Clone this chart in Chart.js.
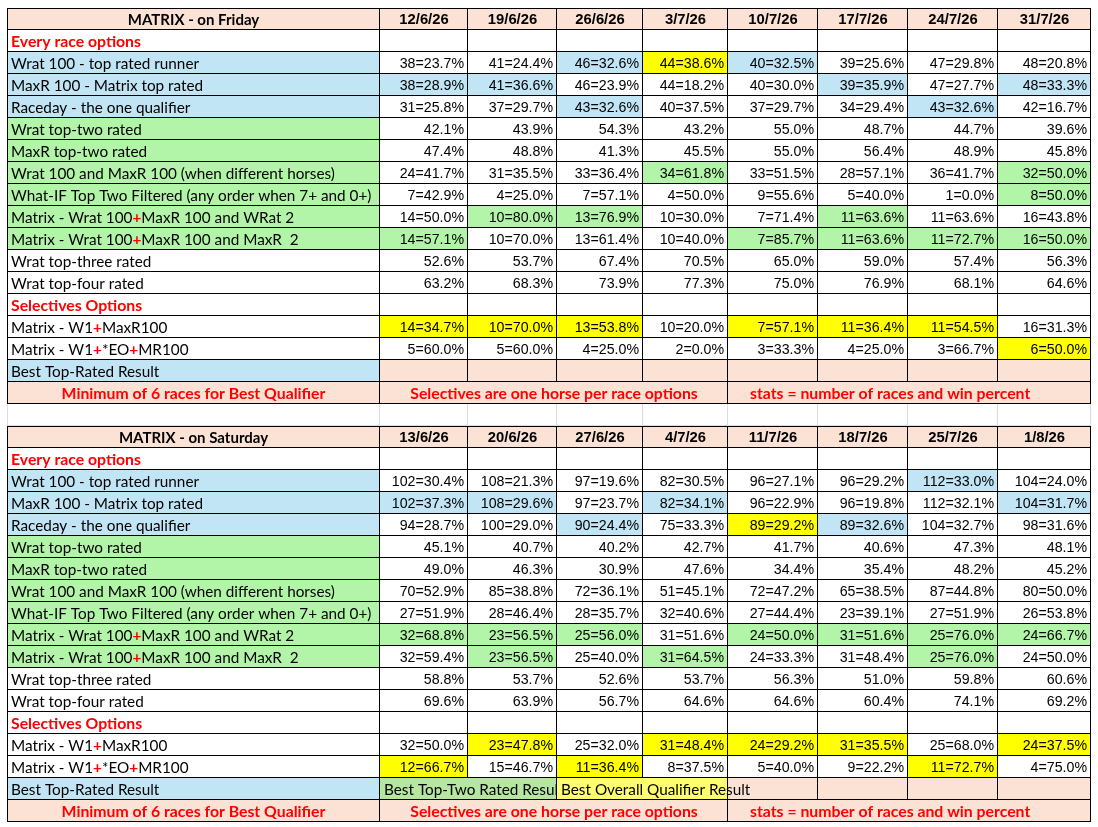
<!DOCTYPE html>
<html>
<head>
<meta charset="utf-8">
<script src="https://cdn.jsdelivr.net/npm/chart.js@4.4.1/dist/chart.umd.min.js"></script>
<style>
  html, body { margin: 0; padding: 0; background: #fff; }
  #wrap { width: 1098px; height: 827px; position: relative; }
</style>
</head>
<body>
<div id="wrap"><canvas id="sheet"></canvas></div>
<script>
// ---- data ----
const sectionLabels = ['Every race options', 'Selectives Options'];
const rowLabels = [
    'Wrat 100 - top rated runner',
    'MaxR 100 - Matrix top rated',
    'Raceday - the one qualifier',
    'Wrat top-two rated',
    'MaxR top-two rated',
    'Wrat 100 and MaxR 100 (when different horses)',
    'What-IF Top Two Filtered (any order when 7+ and 0+)',
    'Matrix - Wrat 100+MaxR 100 and WRat 2',
    'Matrix - Wrat 100+MaxR 100 and MaxR  2',
    'Wrat top-three rated',
    'Wrat top-four rated'
];
const selectiveLabels = ['Matrix - W1+MaxR100', 'Matrix - W1+*EO+MR100'];
const bestLabel = 'Best Top-Rated Result';
const footNotes = ['Minimum of 6 races for Best Qualifier', 'Selectives are one horse per race options', 'stats = number of races and win percent'];
const satBestNotes = ['Best Top-Two Rated Result', 'Best Overall Qualifier Result'];

const friDates = ['12/6/26', '19/6/26', '26/6/26', '3/7/26', '10/7/26', '17/7/26', '24/7/26', '31/7/26'];
const friWrat100   = ['38=23.7%', '41=24.4%', '46=32.6%', '44=38.6%', '40=32.5%', '39=25.6%', '47=29.8%', '48=20.8%'];
const friMaxR100   = ['38=28.9%', '41=36.6%', '46=23.9%', '44=18.2%', '40=30.0%', '39=35.9%', '47=27.7%', '48=33.3%'];
const friRaceday   = ['31=25.8%', '37=29.7%', '43=32.6%', '40=37.5%', '37=29.7%', '34=29.4%', '43=32.6%', '42=16.7%'];
const friWratTop2  = ['42.1%', '43.9%', '54.3%', '43.2%', '55.0%', '48.7%', '44.7%', '39.6%'];
const friMaxRTop2  = ['47.4%', '48.8%', '41.3%', '45.5%', '55.0%', '56.4%', '48.9%', '45.8%'];
const friBothDiff  = ['24=41.7%', '31=35.5%', '33=36.4%', '34=61.8%', '33=51.5%', '28=57.1%', '36=41.7%', '32=50.0%'];
const friWhatIf    = ['7=42.9%', '4=25.0%', '7=57.1%', '4=50.0%', '9=55.6%', '5=40.0%', '1=0.0%', '8=50.0%'];
const friMatrixW2  = ['14=50.0%', '10=80.0%', '13=76.9%', '10=30.0%', '7=71.4%', '11=63.6%', '11=63.6%', '16=43.8%'];
const friMatrixM2  = ['14=57.1%', '10=70.0%', '13=61.4%', '10=40.0%', '7=85.7%', '11=63.6%', '11=72.7%', '16=50.0%'];
const friWratTop3  = ['52.6%', '53.7%', '67.4%', '70.5%', '65.0%', '59.0%', '57.4%', '56.3%'];
const friWratTop4  = ['63.2%', '68.3%', '73.9%', '77.3%', '75.0%', '76.9%', '68.1%', '64.6%'];
const friSelW1MR   = ['14=34.7%', '10=70.0%', '13=53.8%', '10=20.0%', '7=57.1%', '11=36.4%', '11=54.5%', '16=31.3%'];
const friSelW1EO   = ['5=60.0%', '5=60.0%', '4=25.0%', '2=0.0%', '3=33.3%', '4=25.0%', '3=66.7%', '6=50.0%'];

const satDates = ['13/6/26', '20/6/26', '27/6/26', '4/7/26', '11/7/26', '18/7/26', '25/7/26', '1/8/26'];
const satWrat100   = ['102=30.4%', '108=21.3%', '97=19.6%', '82=30.5%', '96=27.1%', '96=29.2%', '112=33.0%', '104=24.0%'];
const satMaxR100   = ['102=37.3%', '108=29.6%', '97=23.7%', '82=34.1%', '96=22.9%', '96=19.8%', '112=32.1%', '104=31.7%'];
const satRaceday   = ['94=28.7%', '100=29.0%', '90=24.4%', '75=33.3%', '89=29.2%', '89=32.6%', '104=32.7%', '98=31.6%'];
const satWratTop2  = ['45.1%', '40.7%', '40.2%', '42.7%', '41.7%', '40.6%', '47.3%', '48.1%'];
const satMaxRTop2  = ['49.0%', '46.3%', '30.9%', '47.6%', '34.4%', '35.4%', '48.2%', '45.2%'];
const satBothDiff  = ['70=52.9%', '85=38.8%', '72=36.1%', '51=45.1%', '72=47.2%', '65=38.5%', '87=44.8%', '80=50.0%'];
const satWhatIf    = ['27=51.9%', '28=46.4%', '28=35.7%', '32=40.6%', '27=44.4%', '23=39.1%', '27=51.9%', '26=53.8%'];
const satMatrixW2  = ['32=68.8%', '23=56.5%', '25=56.0%', '31=51.6%', '24=50.0%', '31=51.6%', '25=76.0%', '24=66.7%'];
const satMatrixM2  = ['32=59.4%', '23=56.5%', '25=40.0%', '31=64.5%', '24=33.3%', '31=48.4%', '25=76.0%', '24=50.0%'];
const satWratTop3  = ['58.8%', '53.7%', '52.6%', '53.7%', '56.3%', '51.0%', '59.8%', '60.6%'];
const satWratTop4  = ['69.6%', '63.9%', '56.7%', '64.6%', '64.6%', '60.4%', '74.1%', '69.2%'];
const satSelW1MR   = ['32=50.0%', '23=47.8%', '25=32.0%', '31=48.4%', '24=29.2%', '31=35.5%', '25=68.0%', '24=37.5%'];
const satSelW1EO   = ['12=66.7%', '15=46.7%', '11=36.4%', '8=37.5%', '5=40.0%', '9=22.2%', '11=72.7%', '4=75.0%'];

// ---- styling (cell highlight codes, layout) ----
const PAL = { w: '#ffffff', b: '#c1e5f5', g: '#b3f5a8', y: '#ffff00', p: '#fbe2d5', ly: '#ffff70', mg: '#b5e6a2' };
const labelFills = 'bbbggggggww';
const friMarks = ['wwbybwww', 'bbwwwbwb', 'wwbwwwbw', 'wwwwwwww', 'wwwwwwww', 'wwwgwwwg',
                  'wwwwwwwg', 'wggwwgww', 'gwwwgggg', 'wwwwwwww', 'wwwwwwww'];
const friSelMarks = ['yyywyyyw', 'wwwwwwwy'];
const satMarks = ['wwwwwwbw', 'bbwbwwwb', 'wwbwybww', 'wwwwwwww', 'wwwwwwww', 'wwwwwwww',
                  'wwwwwwww', 'gggwgggg', 'wgwgwwgw', 'wwwwwwww', 'wwwwwwww'];
const satSelMarks = ['wywyyywy', 'ywywwwyw'];

const colEdges = [7, 380, 468, 557, 643, 728, 818, 908, 998, 1091];
const ROWS = 37;
const RED = '#ff0000';
const F_LABEL = '15.3px Lato';
const F_VALUE = '14.2px "Liberation Sans"';
const F_DATE = 'bold 14.8px "Liberation Sans"';
const F_TITLE = 'bold 15px Lato';
const F_RED = 'bold 15.8px Lato';

const cells = [];
function cell(row, c0, c1, fill, text, opt) {
    const o = opt || {};
    cells.push({
        row, x0: colEdges[c0], x1: colEdges[c1], fill, text: text || '',
        align: o.align || 'left', font: o.font || F_LABEL, color: o.color || '#000',
        line: o.line || '#000', top: o.top || 0, clip: !!o.clip, pad: o.pad
    });
}

function buildTable(start, title, dates, data, marks, sel, selMarks, bestRow) {
    cell(start, 0, 1, PAL.p, title, { align: 'center', font: F_TITLE, top: 1 });
    dates.forEach((d, i) => cell(start, i + 1, i + 2, PAL.p, d, { align: 'center', font: F_DATE, top: 1 }));

    cell(start + 1, 0, 1, PAL.w, sectionLabels[0], { font: F_RED, color: RED });
    dates.forEach((d, i) => cell(start + 1, i + 1, i + 2, PAL.w, ''));

    data.forEach((vals, r) => {
        cell(start + 2 + r, 0, 1, PAL[labelFills[r]], rowLabels[r]);
        vals.forEach((v, i) => cell(start + 2 + r, i + 1, i + 2, PAL[marks[r][i]], v, { align: 'right', font: F_VALUE }));
    });

    cell(start + 13, 0, 1, PAL.w, sectionLabels[1], { font: F_RED, color: RED });
    dates.forEach((d, i) => cell(start + 13, i + 1, i + 2, PAL.w, ''));

    sel.forEach((vals, r) => {
        cell(start + 14 + r, 0, 1, PAL.w, selectiveLabels[r]);
        vals.forEach((v, i) => cell(start + 14 + r, i + 1, i + 2, PAL[selMarks[r][i]], v, { align: 'right', font: F_VALUE }));
    });

    cell(start + 16, 0, 1, PAL.b, bestLabel);
    bestRow(start + 16);

    cell(start + 17, 0, 1, PAL.p, footNotes[0], { align: 'center', font: F_RED, color: RED });
    cell(start + 17, 1, 5, PAL.p, footNotes[1], { align: 'center', font: F_RED, color: RED });
    cell(start + 17, 5, 9, PAL.p, footNotes[2], { align: 'left', pad: 22, font: F_RED, color: RED });
}

buildTable(0, 'MATRIX - on Friday', friDates,
    [friWrat100, friMaxR100, friRaceday, friWratTop2, friMaxRTop2, friBothDiff, friWhatIf, friMatrixW2, friMatrixM2, friWratTop3, friWratTop4],
    friMarks, [friSelW1MR, friSelW1EO], friSelMarks,
    row => friDates.forEach((d, i) => cell(row, i + 1, i + 2, PAL.p, '')));

// blank spreadsheet row between the two tables
for (let i = 0; i < 9; i++) cell(18, i, i + 1, PAL.w, '', { line: '#dcdcdc' });

buildTable(19, 'MATRIX - on Saturday', satDates,
    [satWrat100, satMaxR100, satRaceday, satWratTop2, satMaxRTop2, satBothDiff, satWhatIf, satMatrixW2, satMatrixM2, satWratTop3, satWratTop4],
    satMarks, [satSelW1MR, satSelW1EO], satSelMarks,
    row => {
        cell(row, 1, 3, PAL.mg, satBestNotes[0], { clip: true });
        cell(row, 3, 5, PAL.ly, satBestNotes[1]);
        for (let i = 5; i < 9; i++) cell(row, i, i + 1, PAL.p, '');
    });

// one dataset per cell position within a row (grouped:false puts them on the same row band)
const perRow = {};
const layers = [];
cells.forEach(c => {
    const k = perRow[c.row] = (perRow[c.row] == null ? 0 : perRow[c.row] + 1);
    if (!layers[k]) layers[k] = new Array(ROWS).fill(null);
    layers[k][c.row] = c;
});

const datasets = layers.map(layer => ({
    data: layer.map(c => c ? [c.x0, c.x1] : null),
    backgroundColor: layer.map(c => c ? c.fill : 'transparent'),
    borderColor: layer.map(c => c ? c.line : '#000'),
    borderWidth: layer.map(c => c ? { top: c.top, right: 1, bottom: 1, left: c.x0 === colEdges[0] ? 1 : 0 } : 0),
    borderSkipped: false,
    inflateAmount: 0,
    grouped: false,
    barPercentage: 1,
    categoryPercentage: 1
}));

const rowKeys = Array.from({ length: ROWS }, (_, i) => 'row' + i);

function drawRich(ctx, text, x, y, font, color) {
    // the "Matrix - ..." captions show their plus signs in bold red
    const redPlus = text.startsWith('Matrix');
    const parts = redPlus ? text.split(/(\+)/) : [text];
    let cx = x;
    parts.forEach(p => {
        if (!p) return;
        const plus = redPlus && p === '+';
        ctx.font = plus ? 'bold 15.3px Lato' : font;
        ctx.fillStyle = plus ? RED : color;
        ctx.fillText(p, cx, y);
        cx += ctx.measureText(p).width;
    });
}

const cellText = {
    id: 'cellText',
    afterDatasetsDraw(chart) {
        const ctx = chart.ctx;
        ctx.save();
        ctx.textBaseline = 'middle';
        layers.forEach((layer, k) => {
            const meta = chart.getDatasetMeta(k);
            layer.forEach((c, i) => {
                if (!c || !c.text) return;
                const el = meta.data[i];
                const p = el.getProps(['x', 'base', 'y'], true);
                const left = Math.min(p.x, p.base), right = Math.max(p.x, p.base);
                const y = p.y + 1;
                ctx.save();
                if (c.clip) {
                    ctx.beginPath();
                    ctx.rect(left, p.y - 11, right - left - 1, 21);
                    ctx.clip();
                }
                ctx.font = c.font;
                if (c.align === 'center') {
                    ctx.textAlign = 'center';
                    ctx.fillStyle = c.color;
                    ctx.fillText(c.text, (left + right) / 2, y);
                } else if (c.align === 'right') {
                    ctx.textAlign = 'right';
                    ctx.fillStyle = c.color;
                    ctx.fillText(c.text, right - 4, y);
                } else {
                    ctx.textAlign = 'left';
                    drawRich(ctx, c.text, left + (c.pad != null ? c.pad : 4), y, c.font, c.color);
                }
                ctx.restore();
            });
        });
        ctx.restore();
    }
};

new Chart(document.getElementById('sheet'), {
    type: 'bar',
    data: { labels: rowKeys, datasets },
    options: {
        indexAxis: 'y',
        responsive: true,
        maintainAspectRatio: false,
        animation: false,
        events: [],
        layout: { padding: { top: 8, bottom: 5, left: 0, right: 0 } },
        plugins: { legend: { display: false }, tooltip: { enabled: false }, title: { display: false } },
        scales: {
            x: { type: 'linear', min: 0, max: 1098, display: false },
            y: { type: 'category', display: false, offset: true }
        }
    },
    plugins: [cellText]
});
</script>
</body>
</html>
